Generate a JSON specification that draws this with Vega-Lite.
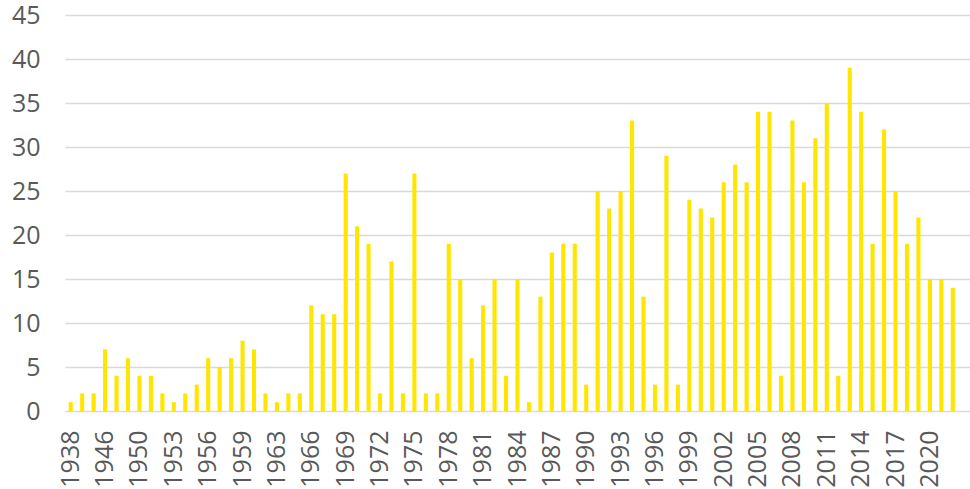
{
  "$schema": "https://vega.github.io/schema/vega-lite/v6.json",
  "width": 905,
  "height": 396,
  "autosize": {"type": "none"},
  "padding": {"left": 65, "top": 15, "right": 0, "bottom": 78},
  "background": "white",
  "config": {"view": {"stroke": null}},
  "data": {
    "values": [
      {"year": "1938", "count": 1}, {"year": "1939", "count": 2}, {"year": "1945", "count": 2},
      {"year": "1946", "count": 7}, {"year": "1947", "count": 4}, {"year": "1949", "count": 6},
      {"year": "1950", "count": 4}, {"year": "1951", "count": 4}, {"year": "1952", "count": 2},
      {"year": "1953", "count": 1}, {"year": "1954", "count": 2}, {"year": "1955", "count": 3},
      {"year": "1956", "count": 6}, {"year": "1957", "count": 5}, {"year": "1958", "count": 6},
      {"year": "1959", "count": 8}, {"year": "1960", "count": 7}, {"year": "1962", "count": 2},
      {"year": "1963", "count": 1}, {"year": "1964", "count": 2}, {"year": "1965", "count": 2},
      {"year": "1966", "count": 12}, {"year": "1967", "count": 11}, {"year": "1968", "count": 11},
      {"year": "1969", "count": 27}, {"year": "1970", "count": 21}, {"year": "1971", "count": 19},
      {"year": "1972", "count": 2}, {"year": "1973", "count": 17}, {"year": "1974", "count": 2},
      {"year": "1975", "count": 27}, {"year": "1976", "count": 2}, {"year": "1977", "count": 2},
      {"year": "1978", "count": 19}, {"year": "1979", "count": 15}, {"year": "1980", "count": 6},
      {"year": "1981", "count": 12}, {"year": "1982", "count": 15}, {"year": "1983", "count": 4},
      {"year": "1984", "count": 15}, {"year": "1985", "count": 1}, {"year": "1986", "count": 13},
      {"year": "1987", "count": 18}, {"year": "1988", "count": 19}, {"year": "1989", "count": 19},
      {"year": "1990", "count": 3}, {"year": "1991", "count": 25}, {"year": "1992", "count": 23},
      {"year": "1993", "count": 25}, {"year": "1994", "count": 33}, {"year": "1995", "count": 13},
      {"year": "1996", "count": 3}, {"year": "1997", "count": 29}, {"year": "1998", "count": 3},
      {"year": "1999", "count": 24}, {"year": "2000", "count": 23}, {"year": "2001", "count": 22},
      {"year": "2002", "count": 26}, {"year": "2003", "count": 28}, {"year": "2004", "count": 26},
      {"year": "2005", "count": 34}, {"year": "2006", "count": 34}, {"year": "2007", "count": 4},
      {"year": "2008", "count": 33}, {"year": "2009", "count": 26}, {"year": "2010", "count": 31},
      {"year": "2011", "count": 35}, {"year": "2012", "count": 4}, {"year": "2013", "count": 39},
      {"year": "2014", "count": 34}, {"year": "2015", "count": 19}, {"year": "2016", "count": 32},
      {"year": "2017", "count": 25}, {"year": "2018", "count": 19}, {"year": "2019", "count": 22},
      {"year": "2020", "count": 15}, {"year": "2021", "count": 15}, {"year": "2022", "count": 14}
    ]
  },
  "mark": {"type": "bar", "color": "#FFE600"},
  "encoding": {
    "x": {
      "field": "year",
      "type": "ordinal",
      "scale": {
        "domain": ["1938","1939","1945","1946","1947","1949","1950","1951","1952","1953","1954","1955","1956","1957","1958","1959","1960","1962","1963","1964","1965","1966","1967","1968","1969","1970","1971","1972","1973","1974","1975","1976","1977","1978","1979","1980","1981","1982","1983","1984","1985","1986","1987","1988","1989","1990","1991","1992","1993","1994","1995","1996","1997","1998","1999","2000","2001","2002","2003","2004","2005","2006","2007","2008","2009","2010","2011","2012","2013","2014","2015","2016","2017","2018","2019","2020","2021","2022","2023"],
        "paddingInner": 0.64,
        "paddingOuter": 0.32
      },
      "axis": {
        "title": null,
        "values": ["1938","1946","1950","1953","1956","1959","1963","1966","1969","1972","1975","1978","1981","1984","1987","1990","1993","1996","1999","2002","2005","2008","2011","2014","2017","2020"],
        "labelAngle": -90,
        "labelAlign": "right",
        "labelBaseline": "middle",
        "labelFont": "Open Sans",
        "labelFontSize": 25,
        "labelColor": "#595959",
        "labelPadding": 19,
        "ticks": false,
        "domain": false,
        "grid": false
      }
    },
    "y": {
      "field": "count",
      "type": "quantitative",
      "scale": {"domain": [0, 45]},
      "axis": {
        "title": null,
        "values": [0,5,10,15,20,25,30,35,40,45],
        "labelFont": "Open Sans",
        "labelFontSize": 25,
        "labelColor": "#595959",
        "labelPadding": 25,
        "ticks": false,
        "domain": false,
        "grid": true,
        "gridColor": "#D9D9D9",
        "gridWidth": 1.5
      }
    }
  }
}
